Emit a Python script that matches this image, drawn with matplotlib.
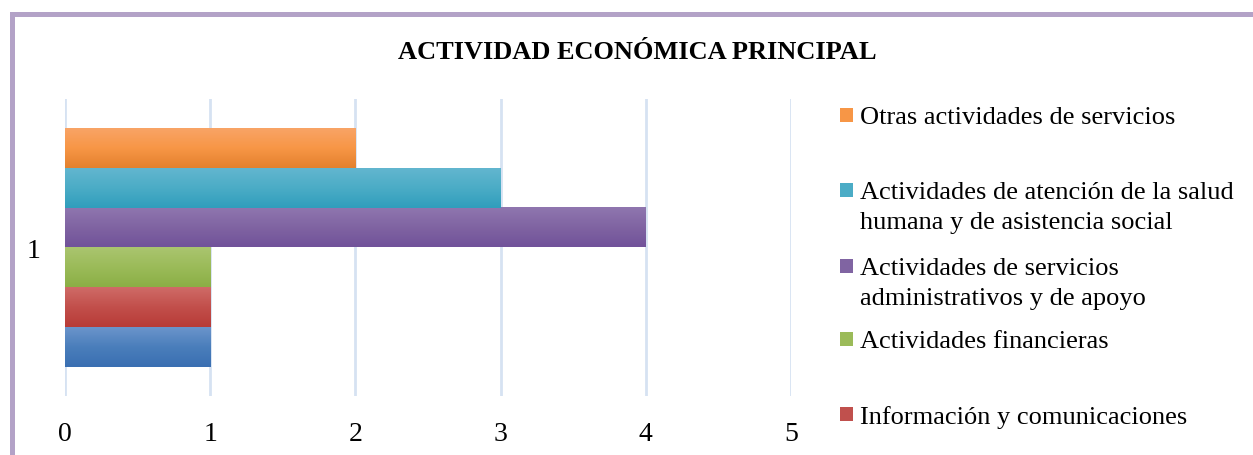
import numpy as np
import matplotlib.pyplot as plt
from matplotlib.colors import LinearSegmentedColormap
from matplotlib.patches import Rectangle

plt.rcParams['font.family'] = ['Liberation Serif', 'DejaVu Serif']

# series, bottom to top (Excel order)
series = [
    "",  # blue series, legend entry falls outside the picture
    "Información y comunicaciones",
    "Actividades financieras",
    "Actividades de servicios\nadministrativos y de apoyo",
    "Actividades de atención de la salud\nhumana y de asistencia social",
    "Otras actividades de servicios",
]
values = [1, 1, 1, 4, 3, 2]
category = ["1"]
xticks = [0, 1, 2, 3, 4, 5]

# (top, middle, bottom) gradient colours per series
grads = [
    ("#6B94CB", "#4A7EBB", "#3A6FB2"),
    ("#CF6B67", "#C24F4B", "#B83B37"),
    ("#AAC56F", "#9BBB59", "#8BAF45"),
    ("#8F76AF", "#8064A2", "#71529A"),
    ("#62B6CF", "#4BACC6", "#309EBC"),
    ("#F9A466", "#F79646", "#E3812E"),
]
swatch = ["#4A7EBB", "#C0504D", "#9BBB59", "#8064A2", "#4BACC6", "#F79646"]


def main():
    fig = plt.figure(figsize=(12.53, 4.56), dpi=100)
    ax = fig.add_axes([0.0519, 0.1294, 0.5794, 0.6513])

    n = len(values)
    group = 0.808
    h = group / n
    offsets = (np.arange(n) - (n - 1) / 2) * h
    for i, v in enumerate(values):
        y = 0 + offsets[i]
        bars = ax.barh(y, v, height=h, color="none", edgecolor="none", zorder=2)
        cmap = LinearSegmentedColormap.from_list("g%d" % i, list(grads[i]))
        grad = np.linspace(0, 1, 64).reshape(-1, 1)
        for b in bars:
            x0, y0 = b.get_x(), b.get_y()
            ax.imshow(grad, cmap=cmap, aspect="auto", origin="upper",
                      extent=(x0, x0 + b.get_width(), y0, y0 + b.get_height()),
                      zorder=2, interpolation="bilinear")

    ax.set_xlim(0, 5)
    ax.set_ylim(-0.5, 0.5)
    ax.set_xticks(xticks)
    ax.set_yticks([0])
    ax.set_yticklabels(category)
    ax.tick_params(axis="x", length=0, pad=18, labelsize=20)
    ax.tick_params(axis="y", length=0, pad=18, labelsize=20)
    for s in ax.spines.values():
        s.set_visible(False)
    ax.grid(axis="x", color="#D6E2F2", linewidth=2, zorder=0)
    ax.set_axisbelow(True)

    fig.text(0.509, 0.884, "ACTIVIDAD ECONÓMICA PRINCIPAL", ha="center",
             va="center", fontsize=19, fontweight="bold")

    # legend, top entry first, drawn like the Excel one
    order = [5, 4, 3, 2, 1]
    ys = [116, 191, 267, 340, 415]
    for k, yp in zip(order, ys):
        fig.patches.append(Rectangle((840 / 1253, 1 - (yp + 7) / 456),
                                     13 / 1253, 14 / 456,
                                     transform=fig.transFigure,
                                     facecolor=swatch[k], edgecolor="none"))
        fig.text(860 / 1253, 1 - (yp - 9) / 456, series[k], ha="left",
                 va="top", fontsize=19, linespacing=1.5)

    # chart frame (extends beyond the picture on right and bottom)
    fig.patches.append(Rectangle((11.5 / 1253, -0.2), 1.2, 1.2 - 14.5 / 456,
                                 transform=fig.transFigure, facecolor="none",
                                 edgecolor="#B3A2C7", linewidth=3.6))

    fig.savefig("out.png", dpi=100)


if __name__ == "__main__":
    main()
